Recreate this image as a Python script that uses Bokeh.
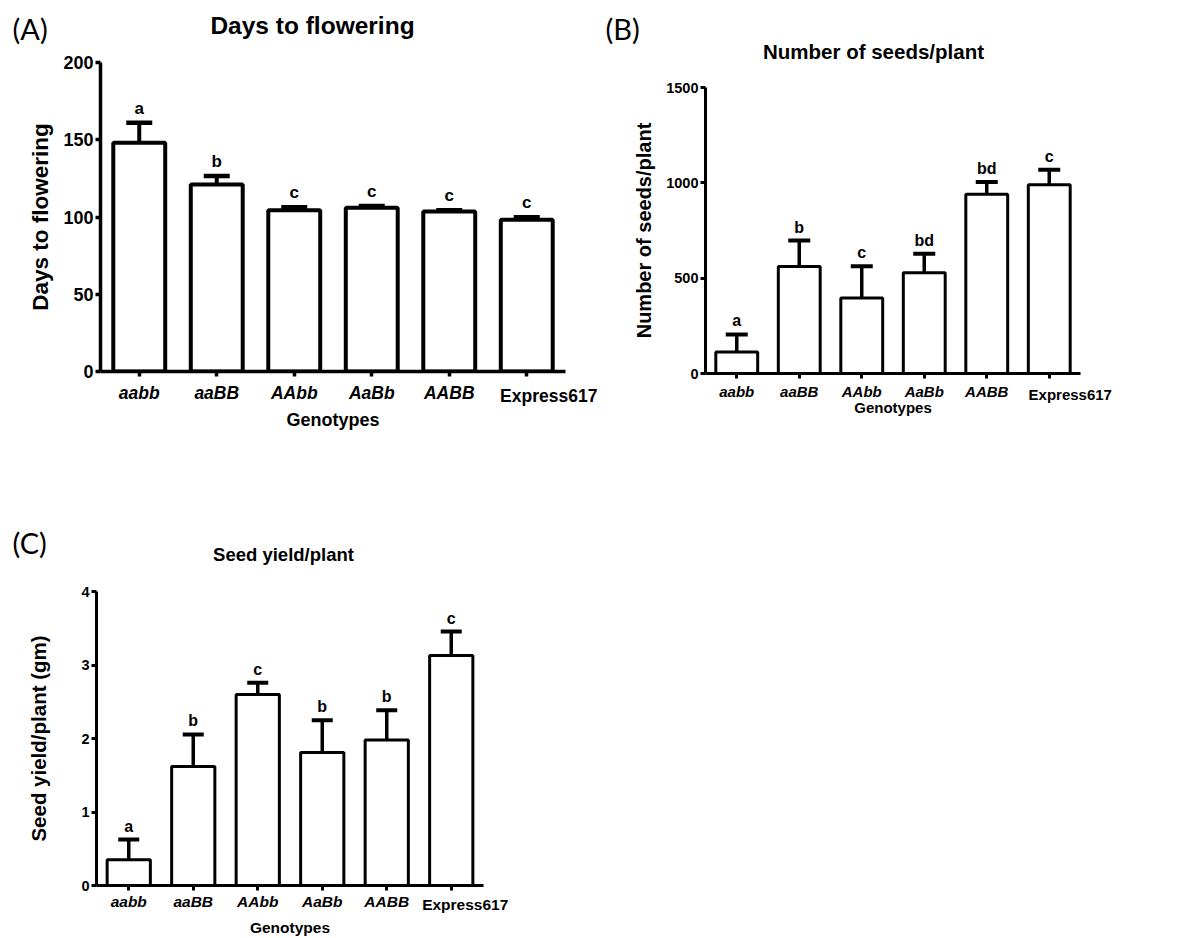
from bokeh.plotting import figure
from bokeh.models import (ColumnDataSource, Whisker, TeeHead, FixedTicker, Range1d,
                          LinearAxis)
from bokeh.layouts import column, row
from bokeh.embed import file_html
from bokeh.resources import INLINE
from bokeh.core.properties import value

# ---------------- data ----------------
genotypes = ["aabb", "aaBB", "AAbb", "AaBb", "AABB", "Express617"]
positions = [0.5, 1.5, 2.5, 3.5, 4.5, 5.5]
cultivar = "Express617"          # shown upright, genotypes in italics

days_mean = [148, 121, 104.3, 106, 103.6, 98.3]
days_se = [13, 5.5, 2.0, 1.2, 0.8, 1.5]
days_letters = ["a", "b", "c", "c", "c", "c"]
days_ticks = [0, 50, 100, 150, 200]

seeds_mean = [113, 561, 396, 528, 940, 990]
seeds_se = [92, 136, 167, 100, 65, 79]
seeds_letters = ["a", "b", "c", "bd", "bd", "c"]
seeds_ticks = [0, 500, 1000, 1500]

yield_mean = [0.35, 1.62, 2.6, 1.81, 1.98, 3.13]
yield_se = [0.275, 0.435, 0.16, 0.44, 0.405, 0.325]
yield_letters = ["a", "b", "c", "b", "b", "c"]
yield_ticks = [0, 1, 2, 3, 4]

FONT = "Liberation Sans"
TAGFONT = "Lato"


def make_header(width, height, tag, tag_xy, title, title_xy, title_fs):
    """Strip above a panel holding the panel tag and the chart title."""
    h = figure(output_backend="svg", toolbar_location=None, title=None,
               width=width, height=height, min_border=0,
               x_range=Range1d(0, width), y_range=Range1d(height, 0),
               x_axis_location=None, y_axis_location=None,
               background_fill_color="white", border_fill_color="white")
    h.outline_line_color = None
    h.grid.visible = False
    h.text(x=[tag_xy[0]], y=[tag_xy[1]], text=[tag], text_align="left",
           text_baseline="middle", text_font=value(TAGFONT),
           text_font_size="29px", text_color="black")
    h.text(x=[title_xy[0]], y=[title_xy[1]], text=[title], text_align="center",
           text_baseline="middle", text_font=value(FONT), text_font_style="bold",
           text_font_size=title_fs, text_color="black")
    return h


def make_panel(borders, W, H, ymax, yticks, means, ses, letters, ylabel, st):
    bl, br, bt, bb = borders
    n = len(genotypes)
    p = figure(output_backend="svg", toolbar_location=None, title=None,
               frame_width=W, frame_height=H,
               min_border_left=bl, min_border_right=br,
               min_border_top=bt, min_border_bottom=bb,
               x_range=Range1d(0, n), y_range=Range1d(0, ymax),
               background_fill_color="white", border_fill_color="white")
    p.outline_line_color = None
    p.grid.visible = False

    src = ColumnDataSource(dict(x=positions, top=means,
                                hi=[m + s for m, s in zip(means, ses)],
                                lab=letters))
    p.vbar(x="x", top="top", width=0.67, source=src, fill_color="white",
           line_color="black", line_width=st["bar_lw"])
    p.add_layout(Whisker(source=src, base="x", lower="top", upper="hi",
                         dimension="height", line_color="black",
                         line_width=st["wh_lw"],
                         upper_head=TeeHead(size=st["cap"], line_color="black",
                                            line_width=st["cap_lw"]),
                         lower_head=None))
    p.text(x="x", y="hi", text="lab", source=src, text_align="center",
           text_baseline="bottom", y_offset=-5, text_font=value(FONT),
           text_font_style="bold", text_font_size=st["let_fs"], text_color="black")

    xa = p.xaxis[0]
    ya = p.yaxis[0]
    for ax in (xa, ya):
        ax.axis_line_width = st["ax_lw"]
        ax.axis_line_color = "black"
        ax.major_tick_line_width = st["ax_lw"]
        ax.major_tick_line_color = "black"
        ax.major_tick_in = 0
        ax.major_tick_out = 5
        ax.minor_tick_line_color = None
        ax.major_label_text_font = FONT
        ax.major_label_text_font_style = "bold"
        ax.major_label_text_color = "black"
        ax.axis_label_text_font = FONT
        ax.axis_label_text_font_style = "bold"
        ax.axis_label_text_color = "black"

    ya.ticker = FixedTicker(ticks=yticks)
    ya.major_label_text_font_size = st["ytick_fs"]
    ya.major_label_standoff = st["ytick_so"]
    ya.axis_label = ylabel
    ya.axis_label_text_font_size = st["ylab_fs"]
    ya.axis_label_standoff = st["ylab_so"]

    # genotype labels (italic)
    xa.ticker = FixedTicker(ticks=positions)
    xa.major_label_overrides = {pos: (g if g != cultivar else "")
                                for pos, g in zip(positions, genotypes)}
    xa.major_label_text_font_size = "%gpx" % st["xtick_fs"]
    xa.major_label_text_font_style = "bold italic"
    xa.major_label_standoff = st["xtick_so"]

    # cultivar label (upright) on a second, invisible axis pulled up into the
    # same row; as in the original it sits a little right of its tick
    k = round(1.117 * st["xtick_fs"])
    cpos = positions[genotypes.index(cultivar)] + st["cult_shift"] / W * n
    xb = LinearAxis(ticker=FixedTicker(ticks=[cpos]),
                    major_label_overrides={cpos: cultivar},
                    axis_line_color=None, major_tick_line_color=None,
                    minor_tick_line_color=None, major_tick_in=0, major_tick_out=0,
                    major_label_standoff=-k,
                    major_label_text_font=FONT, major_label_text_font_style="bold",
                    major_label_text_font_size="%gpx" % st["xtick_fs"],
                    major_label_text_color="black",
                    axis_label="Genotypes", axis_label_text_font=FONT,
                    axis_label_text_font_style="bold",
                    axis_label_text_font_size=st["xlab_fs"],
                    axis_label_text_color="black",
                    axis_label_standoff=st["xlab_so"])
    p.add_layout(xb, "below")
    return p


styleA = dict(bar_lw=4, wh_lw=4, cap=26, cap_lw=4.5, ax_lw=3.5, let_fs="17px",
              ytick_fs="18px", ytick_so=2, ylab_fs="22.5px", ylab_so=7,
              xtick_fs=17.5, xtick_so=6, xlab_fs="18px", xlab_so=1, cult_shift=22)
styleB = dict(bar_lw=3, wh_lw=3.5, cap=22, cap_lw=4, ax_lw=3, let_fs="16px",
              ytick_fs="14.5px", ytick_so=2, ylab_fs="20px", ylab_so=8,
              xtick_fs=15, xtick_so=4, xlab_fs="15px", xlab_so=-7, cult_shift=21)
styleC = dict(bar_lw=3, wh_lw=3.5, cap=21, cap_lw=4, ax_lw=3, let_fs="16px",
              ytick_fs="14.5px", ytick_so=2, ylab_fs="20.5px", ylab_so=28,
              xtick_fs=15.5, xtick_so=2, xlab_fs="15.5px", xlab_so=3, cult_shift=14)

# panel A: page x 0..600, frame x 100..565, y 62..371
hA = make_header(600, 45, "(A)", (12, 28), "Days to flowering", (312, 25), "24.5px")
pA = make_panel((100, 35, 17, 89), 465, 309, 200, days_ticks, days_mean, days_se,
                days_letters, "Days to flowering", styleA)
# panel B: page x 600..1181, frame x 705..1080, y 87..373
hB = make_header(581, 70, "(B)", (5, 28), "Number of seeds/plant", (273, 51), "20.5px")
pB = make_panel((105, 101, 17, 89), 375, 286, 1500, seeds_ticks, seeds_mean,
                seeds_se, seeds_letters, "Number of seeds/plant", styleB)
# panel C: page y from 462, frame x 96..483, y 591..885
hC = make_header(540, 110, "(C)", (12, 80), "Seed yield/plant", (283, 92), "18.5px")
pC = make_panel((96, 57, 19, 50), 387, 294, 4, yield_ticks, yield_mean, yield_se,
                yield_letters, "Seed yield/plant (gm)", styleC)

layout = column(row(column(row(hA), pA), column(row(hB), pB)),
                column(row(hC), pC))
open("out.html", "w").write(file_html(layout, INLINE))
